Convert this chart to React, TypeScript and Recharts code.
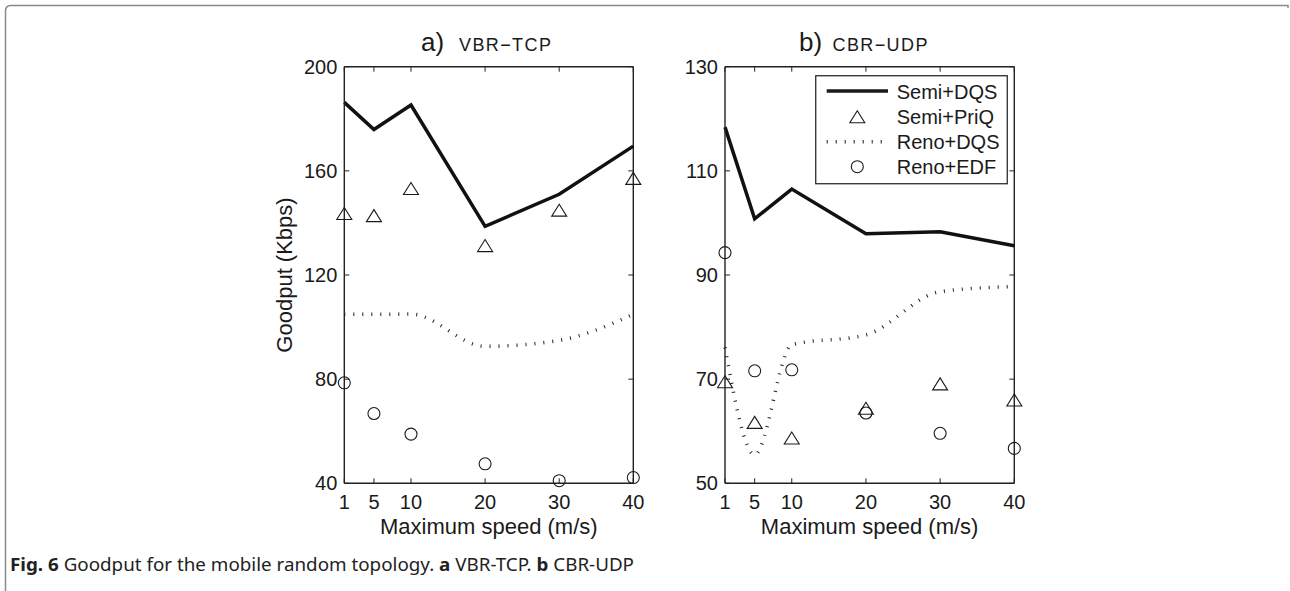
import React from 'react';
import { ComposedChart, Line, XAxis, YAxis, Legend, ReferenceLine } from 'recharts';

const speeds = [1, 5, 10, 20, 30, 40];
const speedTicks = [1, 5, 10, 20, 30, 40];

const vbrSemiDqs = [186.3, 175.9, 185.3, 138.7, 151.0, 169.5];
const vbrSemiPriq = [143.6, 142.8, 153.2, 131.3, 144.9, 157.1];
const vbrRenoDqs = [104.9, 104.9, 105.0, 92.6, 94.9, 104.9];
const vbrRenoEdf = [78.6, 66.8, 58.9, 47.5, 41.0, 42.2];

const cbrSemiDqs = [118.4, 100.8, 106.5, 97.9, 98.3, 95.6];
const cbrSemiPriq = [69.5, 61.7, 58.7, 64.4, 69.1, 66.0];
const cbrRenoDqs = [76.1, 55.5, 76.6, 78.5, 86.8, 87.8];
const cbrRenoEdf = [94.3, 71.6, 71.8, 63.5, 59.6, 56.7];

const vbrTicksY = [40, 80, 120, 160, 200];
const cbrTicksY = [50, 70, 90, 110, 130];

const seriesNames = ['Semi+DQS', 'Semi+PriQ', 'Reno+DQS', 'Reno+EDF'];
const panelTitles = [
  { letter: 'a)', name: 'VBR\u2212TCP' },
  { letter: 'b)', name: 'CBR\u2212UDP' },
];
const xLabel = 'Maximum speed (m/s)';
const yLabel = 'Goodput (Kbps)';

const FONT = '"Liberation Sans", Arial, Helvetica, sans-serif';
const INK = '#1a1a1a';
const AXIS = '#222';
const DOT_DASH = '1 8';
const TICK_LEN = 5;

// chart frame geometry (layout only)
const CHART_W = 400;
const CHART_H = 520;
const M_TOP = 46.7;
const M_BOTTOM = 26.7;
const X_AXIS_H = 30;
const Y_AXIS_W = 60;
const PLOT_TOP = M_TOP;
const PLOT_BOTTOM = CHART_H - M_BOTTOM - X_AXIS_H;

function buildRows(a: number[], b: number[], c: number[], d: number[]) {
  return speeds.map((s, i) => ({ speed: s, semiDqs: a[i], semiPriq: b[i], renoDqs: c[i], renoEdf: d[i] }));
}

const vbrRows = buildRows(vbrSemiDqs, vbrSemiPriq, vbrRenoDqs, vbrRenoEdf);
const cbrRows = buildRows(cbrSemiDqs, cbrSemiPriq, cbrRenoDqs, cbrRenoEdf);

function TriangleMark({ cx, cy }: { cx: number; cy: number }) {
  return (
    <polygon
      points={`${cx},${cy - 6} ${cx - 7.5},${cy + 6} ${cx + 7.5},${cy + 6}`}
      fill="none"
      stroke={INK}
      strokeWidth={1.1}
    />
  );
}

function CircleMark({ cx, cy }: { cx: number; cy: number }) {
  return <circle cx={cx} cy={cy} r={6} fill="none" stroke={INK} strokeWidth={1.1} />;
}

const triDot = (p: any) =>
  p.cx == null || p.cy == null ? <g key={p.key} /> : <TriangleMark key={p.key} cx={p.cx} cy={p.cy} />;
const circDot = (p: any) =>
  p.cx == null || p.cy == null ? <g key={p.key} /> : <CircleMark key={p.key} cx={p.cx} cy={p.cy} />;

function LegendBox() {
  const rowsY = [16, 41.7, 66.7, 91.7];
  return (
    <svg width={194} height={110} style={{ display: 'block', fontFamily: FONT }}>
      <rect x={0.75} y={0.75} width={191.5} height={108} fill="#fff" stroke={INK} strokeWidth={1.2} />
      <line x1={11.7} x2={73} y1={rowsY[0]} y2={rowsY[0]} stroke={INK} strokeWidth={3.5} />
      <TriangleMark cx={42.3} cy={rowsY[1]} />
      <line x1={11.7} x2={73} y1={rowsY[2]} y2={rowsY[2]} stroke={INK} strokeWidth={3.5} strokeDasharray={DOT_DASH} />
      <CircleMark cx={42.3} cy={rowsY[3]} />
      {seriesNames.map((n, i) => (
        <text key={n} x={81.7} y={rowsY[i] + 7.5} fontSize={20} fill={INK}>
          {n}
        </text>
      ))}
    </svg>
  );
}

function YLabelContent(props: any) {
  const vb = props.viewBox || {};
  const x = (vb.x ?? 0) + 0;
  const y = (vb.y ?? 0) + (vb.height ?? 0) / 2;
  return (
    <text x={x} y={y} transform={`rotate(-90, ${x}, ${y})`} textAnchor="middle" dy={7.5} fontSize={22} fill={INK} fontFamily={FONT}>
      {yLabel}
    </text>
  );
}

const X_TICK_MARGIN = 11.7;
const Y_TICK_MARGIN = 7;

function makeXTick() {
  return (p: any) => {
    const x = p.x;
    return (
      <g key={p.key ?? p.index}>
        <line x1={x} x2={x} y1={PLOT_BOTTOM} y2={PLOT_BOTTOM - TICK_LEN} stroke={AXIS} strokeWidth={1} />
        <line x1={x} x2={x} y1={PLOT_TOP} y2={PLOT_TOP + TICK_LEN} stroke={AXIS} strokeWidth={1} />
        <text x={x} y={p.y} dy="0.71em" textAnchor="middle" fontSize={20} fill={INK} fontFamily={FONT}>
          {p.payload.value}
        </text>
      </g>
    );
  };
}

function makeYTick(plotLeft: number, plotRight: number) {
  return (p: any) => {
    const y = p.y;
    return (
      <g key={p.key ?? p.index}>
        <line x1={plotLeft} x2={plotLeft + TICK_LEN} y1={y} y2={y} stroke={AXIS} strokeWidth={1} />
        <line x1={plotRight} x2={plotRight - TICK_LEN} y1={y} y2={y} stroke={AXIS} strokeWidth={1} />
        <text x={p.x} y={y} dy="0.355em" textAnchor="end" fontSize={20} fill={INK} fontFamily={FONT}>
          {p.payload.value}
        </text>
      </g>
    );
  };
}

type PanelProps = {
  left: number;
  rows: any[];
  yDomain: [number, number];
  yTicks: number[];
  marginLeft: number;
  marginRight: number;
  showYLabel: boolean;
  showLegend: boolean;
};

function Panel({ left, rows, yDomain, yTicks, marginLeft, marginRight, showYLabel, showLegend }: PanelProps) {
  const axisLine = { stroke: AXIS, strokeWidth: 1.4 };
  const plotLeft = marginLeft + Y_AXIS_W;
  const plotRight = CHART_W - marginRight;
  return (
    <div style={{ position: 'absolute', left, top: 20, fontFamily: FONT }}>
      <ComposedChart
        width={CHART_W}
        height={CHART_H}
        data={rows}
        margin={{ top: M_TOP, right: marginRight, bottom: M_BOTTOM, left: marginLeft }}
      >
        <XAxis
          dataKey="speed"
          type="number"
          domain={[1, 40]}
          ticks={speedTicks}
          interval={0}
          height={X_AXIS_H}
          tickSize={0}
          tickMargin={X_TICK_MARGIN}
          axisLine={axisLine}
          tickLine={false}
          tick={makeXTick()}
          label={{ value: xLabel, position: 'bottom', offset: 5, style: { fontSize: 22, fill: INK, fontFamily: FONT } }}
        />
        <YAxis
          type="number"
          domain={yDomain}
          ticks={yTicks}
          interval={0}
          width={Y_AXIS_W}
          tickSize={0}
          tickMargin={Y_TICK_MARGIN}
          axisLine={axisLine}
          tickLine={false}
          tick={makeYTick(plotLeft, plotRight)}
          label={showYLabel ? <YLabelContent /> : undefined}
        />
        <ReferenceLine y={yDomain[1]} stroke={AXIS} strokeWidth={1.4} ifOverflow="visible" />
        <ReferenceLine x={40} stroke={AXIS} strokeWidth={1.4} ifOverflow="visible" />
        <Line
          type="monotone"
          dataKey="renoDqs"
          stroke="#222"
          strokeWidth={3.5}
          strokeDasharray={DOT_DASH}
          dot={false}
          activeDot={false}
          isAnimationActive={false}
        />
        <Line
          type="linear"
          dataKey="semiDqs"
          stroke="#111"
          strokeWidth={3.5}
          dot={false}
          activeDot={false}
          isAnimationActive={false}
        />
        <Line dataKey="semiPriq" stroke="none" dot={triDot} activeDot={false} isAnimationActive={false} />
        <Line dataKey="renoEdf" stroke="none" dot={circDot} activeDot={false} isAnimationActive={false} />
        {showLegend && (
          <Legend
            layout="vertical"
            align="center"
            verticalAlign="middle"
            content={() => <LegendBox />}
            wrapperStyle={{ position: 'absolute', left: 175, top: 55, width: 194, height: 110 }}
          />
        )}
      </ComposedChart>
    </div>
  );
}

export default function App() {
  return (
    <div style={{ position: 'absolute', left: 0, top: 0, width: 1290, height: 591, background: '#fff', overflow: 'hidden' }}>
      <svg width={1290} height={591} style={{ position: 'absolute', left: 0, top: 0 }}>
        <path d="M5.5,591 L5.5,11 Q5.5,5.5 11,5.5 L1288,5.5 L1288,8" fill="none" stroke="#8a8a8a" strokeWidth={1.5} />
        <g fontFamily={FONT} fill={INK}>
          <text x={421} y={51} fontSize={26}>{panelTitles[0].letter}</text>
          <text x={459} y={51} fontSize={18} letterSpacing={1.4}>{panelTitles[0].name}</text>
          <text x={799} y={51} fontSize={26}>{panelTitles[1].letter}</text>
          <text x={832.5} y={51} fontSize={18} letterSpacing={1.4}>{panelTitles[1].name}</text>
        </g>
        <text x={10} y={571} fontSize={18} fill="#222" fontFamily='"Noto Sans", "Open Sans", sans-serif' textLength={624} lengthAdjust="spacingAndGlyphs">
          <tspan fontWeight="bold">Fig. 6</tspan>
          <tspan> Goodput for the mobile random topology. </tspan>
          <tspan fontWeight="bold">a</tspan>
          <tspan> VBR-TCP. </tspan>
          <tspan fontWeight="bold">b</tspan>
          <tspan> CBR-UDP</tspan>
        </text>
      </svg>
      <Panel left={260} rows={vbrRows} yDomain={[40, 200]} yTicks={vbrTicksY} marginLeft={24.3} marginRight={26.7} showYLabel showLegend={false} />
      <Panel left={640} rows={cbrRows} yDomain={[50, 130]} yTicks={cbrTicksY} marginLeft={25} marginRight={25.7} showYLabel={false} showLegend />
    </div>
  );
}
